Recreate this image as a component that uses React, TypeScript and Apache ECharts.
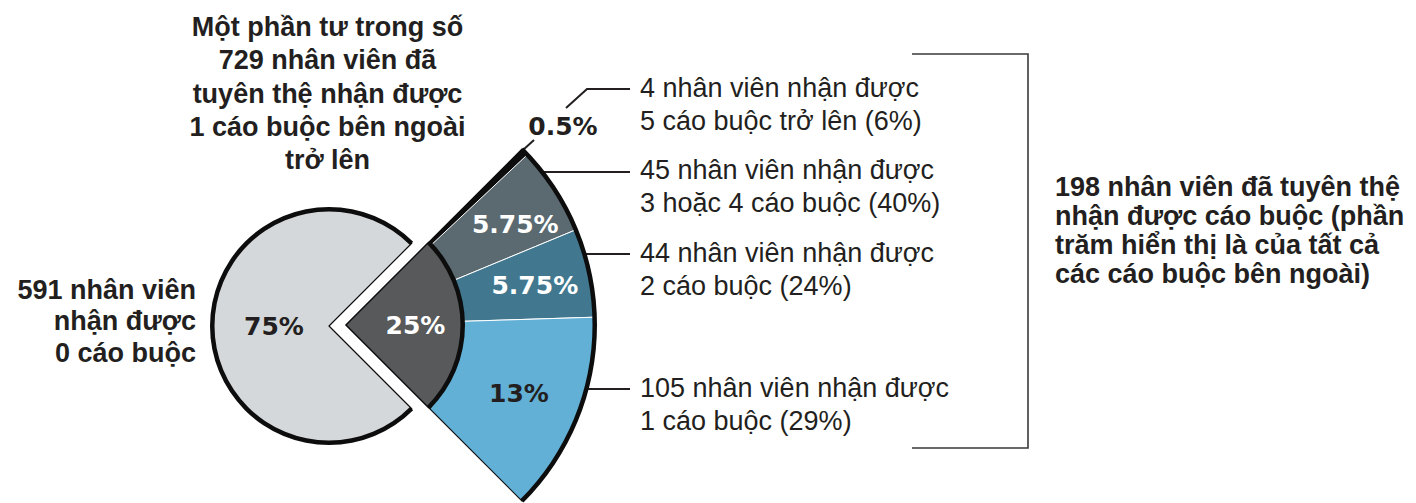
import React, { useEffect, useRef } from 'react';
import * as echarts from 'echarts';

// ---- data ----
const innerCategories = ['0 cáo buộc', '1 cáo buộc trở lên'];
const innerValues = [75, 25];
const innerLabels = ['75%', '25%'];
const outerCategories = ['5+', '3-4', '2', '1'];
const outerValues = [0.5, 5.75, 5.75, 13];
const outerLabels = ['0.5%', '5.75%', '5.75%', '13%'];
const employeeCounts = [4, 45, 44, 105];
const allegationGroups = ['5 cáo buộc trở lên', '3 hoặc 4 cáo buộc', '2 cáo buộc', '1 cáo buộc'];
const allegationShares = [6, 40, 24, 29];
const titleLines = ['Một phần tư trong số', '729 nhân viên đã', 'tuyên thệ nhận được', '1 cáo buộc bên ngoài', 'trở lên'];
const zeroLines = ['591 nhân viên', 'nhận được', '0 cáo buộc'];
const bracketLines = ['198 nhân viên đã tuyên thệ', 'nhận được cáo buộc (phần', 'trăm hiển thị là của tất cả', 'các cáo buộc bên ngoài)'];

// ---- styles ----
const INK = '#231f20';
const EDGE = '#0d0d0d';
const LIGHT = '#d5d8db';
const DARK = '#58595b';
const outerColors = [EDGE, '#5b6a71', '#41788f', '#62b0d6'];
const outerLabelColors = [INK, '#ffffff', '#ffffff', INK];
const outerLabelPad = [[0, 0, 0, 0], [0, 0, 6, 26], [0, 0, 0, 14], [0, 0, 8, 0]];
const PCT_FONT = { fontFamily: '"DejaVu Sans"', fontWeight: 'bold' as const, fontSize: 25 };
const SANS = '"Liberation Sans", Arial, sans-serif';

const W = 1416;
const H = 503;
const cA = [329, 326];
const cB = [346, 325];
const rIn = 119;
const rOut = 251;
const ring = 4.5;

const hidden = (v: number) => ({
  value: v,
  itemStyle: { color: 'rgba(0,0,0,0)', borderWidth: 0 },
  label: { show: false },
});

export default function App() {
  const ref = useRef<HTMLDivElement>(null);
  useEffect(() => {
    document.body.style.margin = '0';
    if (!ref.current) return;
    const chart = echarts.init(ref.current, undefined, { renderer: 'svg' });
    const restSum = innerValues[0];
    const base = {
      type: 'pie' as const,
      silent: true,
      startAngle: 45,
      clockwise: true,
      avoidLabelOverlap: false,
      label: { show: false },
      labelLine: { show: false },
      emphasis: { disabled: true },
    };
    const series: any[] = [
      // light gray 75%
      {
        ...base,
        name: innerCategories[0],
        center: cA,
        radius: [0, rIn - 2],
        data: [
          hidden(innerValues[1]),
          {
            name: innerCategories[0],
            value: innerValues[0],
            itemStyle: { color: LIGHT, borderColor: EDGE, borderWidth: 1.2 },
            label: {
              show: true, position: 'inside', formatter: innerLabels[0], color: INK,
              ...PCT_FONT, padding: [0, 0, 0, 13],
            },
          },
        ],
      },
      {
        ...base,
        center: cA,
        radius: [rIn - ring, rIn],
        data: [hidden(innerValues[1]), { value: innerValues[0], itemStyle: { color: EDGE, borderWidth: 0 } }],
      },
      // outer segments
      {
        ...base,
        name: 'outer',
        center: cB,
        radius: [rIn - 2, rOut - 2],
        data: [
          ...outerValues.map((v, i) => ({
            name: outerCategories[i],
            value: v,
            itemStyle: { color: outerColors[i], borderColor: i === 0 ? EDGE : '#ffffff', borderWidth: 1 },
            label: {
              show: i > 0, position: 'inside', formatter: outerLabels[i], color: outerLabelColors[i],
              ...PCT_FONT, padding: outerLabelPad[i],
            },
          })),
          hidden(restSum),
        ],
      },
      // thin outline around the whole wedge
      {
        ...base,
        center: cB,
        radius: [0, rOut - 2],
        data: [
          { value: innerValues[1], itemStyle: { color: 'rgba(0,0,0,0)', borderColor: EDGE, borderWidth: 1.2 } },
          hidden(innerValues[0]),
        ],
      },
      // dark 25%
      {
        ...base,
        name: innerCategories[1],
        center: cB,
        radius: [0, rIn - 2],
        data: [
          {
            name: innerCategories[1],
            value: innerValues[1],
            itemStyle: { color: DARK, borderColor: EDGE, borderWidth: 1.2 },
            label: {
              show: true, position: 'inside', formatter: innerLabels[1], color: '#ffffff',
              ...PCT_FONT, padding: [0, 0, 4, 16],
            },
          },
          hidden(innerValues[0]),
        ],
      },
      {
        ...base,
        center: cB,
        radius: [rIn - ring, rIn],
        data: [{ value: innerValues[1], itemStyle: { color: EDGE, borderWidth: 0 } }, hidden(innerValues[0])],
      },
      {
        ...base,
        center: cB,
        radius: [rOut - ring, rOut],
        data: [{ value: innerValues[1], itemStyle: { color: EDGE, borderWidth: 0 } }, hidden(innerValues[0])],
      },
    ];

    const lineStyle = { stroke: INK, lineWidth: 2, fill: null };
    const descTops = [71.75, 153.75, 237, 372];
    const graphic: any[] = [
      {
        type: 'text', x: 327.5, y: 10.5,
        style: {
          text: titleLines.join('\n'), font: `bold 27px ${SANS}`, fill: INK,
          align: 'center', textAlign: 'center', verticalAlign: 'top', textVerticalAlign: 'top', lineHeight: 33.3,
        },
      },
      {
        type: 'text', x: 196, y: 274,
        style: {
          text: zeroLines.join('\n'), font: `bold 27px ${SANS}`, fill: INK,
          align: 'right', textAlign: 'right', verticalAlign: 'top', textVerticalAlign: 'top', lineHeight: 31.5,
        },
      },
      {
        type: 'text', x: 1055, y: 172.7,
        style: {
          text: bracketLines.join('\n'), font: `bold 27px ${SANS}`, fill: INK,
          align: 'left', textAlign: 'left', verticalAlign: 'top', textVerticalAlign: 'top', lineHeight: 29,
        },
      },
      {
        type: 'text', x: 563, y: 126,
        style: {
          text: outerLabels[0], font: `bold 25px "DejaVu Sans"`, fill: INK,
          align: 'center', textAlign: 'center', verticalAlign: 'middle', textVerticalAlign: 'middle',
        },
      },
      ...employeeCounts.map((n, i) => ({
        type: 'text', x: 640, y: descTops[i],
        style: {
          text: `${n} nhân viên nhận được\n${allegationGroups[i]} (${allegationShares[i]}%)`,
          font: `27px ${SANS}`, fill: INK,
          align: 'left', textAlign: 'left', verticalAlign: 'top', textVerticalAlign: 'top', lineHeight: 32.5,
        },
      })),
      { type: 'polyline', shape: { points: [[523, 150], [534, 140]] }, style: lineStyle },
      { type: 'polyline', shape: { points: [[566, 108], [587, 89], [630, 89]] }, style: lineStyle },
      { type: 'line', shape: { x1: 541, y1: 172, x2: 630, y2: 172 }, style: lineStyle },
      { type: 'line', shape: { x1: 583, y1: 254, x2: 630, y2: 254 }, style: lineStyle },
      { type: 'line', shape: { x1: 586, y1: 389, x2: 630, y2: 389 }, style: lineStyle },
      {
        type: 'polyline',
        shape: { points: [[912, 54], [1028, 54], [1028, 448], [912, 448]] },
        style: { stroke: '#3a3a3a', lineWidth: 1.6, fill: null },
      },
    ];

    chart.setOption({ animation: false, backgroundColor: '#ffffff', series, graphic });
    return () => chart.dispose();
  }, []);
  return <div ref={ref} style={{ width: W, height: H }} />;
}
